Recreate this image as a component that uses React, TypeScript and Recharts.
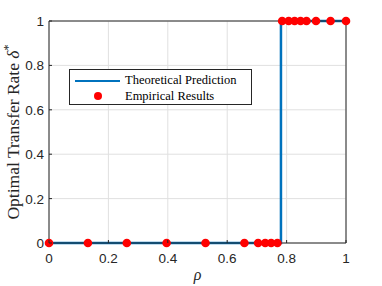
import React from 'react';
import { ComposedChart, Line, Scatter, XAxis, YAxis, CartesianGrid, Legend, Label } from 'recharts';

// curva teórica (degrau) e pontos empíricos
const rhoTeoria = [0, 0.781, 0.781, 1];
const deltaTeoria = [0, 0, 1, 1];
const rhoEmpirico = [0, 0.131, 0.262, 0.396, 0.527, 0.658, 0.704, 0.728, 0.748, 0.769, 0.785, 0.807, 0.827, 0.847, 0.867, 0.899, 0.948, 1];
const deltaEmpirico = [0, 0, 0, 0, 0, 0, 0, 0, 0, 0, 1, 1, 1, 1, 1, 1, 1, 1];
const ticks = [0, 0.2, 0.4, 0.6, 0.8, 1];
const tickLabels = ['0', '0.2', '0.4', '0.6', '0.8', '1'];

const dadosTeoria = rhoTeoria.map((x, i) => ({ x, y: deltaTeoria[i] }));
const dadosEmpirico = rhoEmpirico.map((x, i) => ({ x, y: deltaEmpirico[i] }));

const AZUL = '#0072BD';
const VERMELHO = '#FF0000';
const EIXO = '#262626';
const sans = '"Liberation Sans", Arial, Helvetica, sans-serif';
const serif = '"Liberation Serif", "Times New Roman", serif';

const label = (v: number) => tickLabels[ticks.indexOf(v)] ?? String(v);

const TickBaixo = (props: any) => {
  const { x, y, payload } = props;
  return (
    <g>
      <line x1={x} y1={y} x2={x} y2={y - 3} stroke={EIXO} />
      <text x={x} y={y + 20} textAnchor="middle" fontSize={13.5} fontFamily={sans} fill={EIXO}>
        {label(payload.value)}
      </text>
    </g>
  );
};

const TickEsquerda = (props: any) => {
  const { x, y, payload } = props;
  return (
    <g>
      <line x1={x} y1={y} x2={x + 3} y2={y} stroke={EIXO} />
      <text x={x - 5} y={y + 5} textAnchor="end" fontSize={13.5} fontFamily={sans} fill={EIXO}>
        {label(payload.value)}
      </text>
    </g>
  );
};

const TickCima = (props: any) => {
  const { x, y } = props;
  return <line x1={x} y1={y} x2={x} y2={y + 3} stroke={EIXO} />;
};

const TickDireita = (props: any) => {
  const { x, y } = props;
  return <line x1={x} y1={y} x2={x - 3} y2={y} stroke={EIXO} />;
};

const LegendaCaixa = () => (
  <div
    style={{
      border: '1px solid #262626',
      background: '#fff',
      width: 183,
      height: 36,
      boxSizing: 'border-box',
      fontFamily: serif,
      fontSize: 12.5,
      color: '#000',
      padding: '3px 0 0 5px',
      lineHeight: '15.5px',
    }}
  >
    <div style={{ display: 'flex', alignItems: 'center' }}>
      <span style={{ display: 'inline-block', width: 45, height: 2.5, background: AZUL, marginRight: 5 }} />
      Theoretical Prediction
    </div>
    <div style={{ display: 'flex', alignItems: 'center' }}>
      <span style={{ display: 'inline-block', width: 45, marginRight: 5, textAlign: 'center' }}>
        <span style={{ display: 'inline-block', width: 8, height: 8, borderRadius: 4, background: VERMELHO }} />
      </span>
      Empirical Results
    </div>
  </div>
);

export default function App() {
  return (
    <div style={{ position: 'absolute', left: 0, top: 0, background: '#fff' }}>
      <ComposedChart width={382} height={286} margin={{ top: 20, right: 35, bottom: 13, left: 9 }}>
        <CartesianGrid stroke="#e0e0e0" strokeWidth={1} verticalValues={ticks} horizontalValues={ticks} />
        <XAxis
          dataKey="x"
          type="number"
          domain={[0, 1]}
          ticks={ticks}
          height={30}
          tickSize={0}
          tickMargin={0}
          tick={<TickBaixo />}
          axisLine={{ stroke: EIXO }}
          tickLine={false}
        >
          <Label
            content={(p: any) => (
              <text
                x={p.viewBox.x + p.viewBox.width / 2}
                y={280}
                textAnchor="middle"
                fontSize={16}
                fontStyle="italic"
                fontFamily={serif}
                fill={EIXO}
              >
                ρ
              </text>
            )}
          />
        </XAxis>
        <XAxis
          xAxisId="top"
          orientation="top"
          type="number"
          domain={[0, 1]}
          ticks={ticks}
          height={1}
          tickSize={0}
          tickMargin={0}
          tick={<TickCima />}
          axisLine={{ stroke: EIXO }}
          tickLine={false}
        />
        <YAxis
          type="number"
          domain={[0, 1]}
          ticks={ticks}
          width={40}
          tickSize={0}
          tickMargin={0}
          tick={<TickEsquerda />}
          axisLine={{ stroke: EIXO }}
          tickLine={false}
        >
          <Label
            content={(p: any) => (
              <text
                x={19}
                y={p.viewBox.y + p.viewBox.height / 2}
                transform={`rotate(-90, 19, ${p.viewBox.y + p.viewBox.height / 2})`}
                textAnchor="middle"
                fontSize={17.5}
                fontFamily={serif}
                fill={EIXO}
              >
                Optimal Transfer Rate <tspan fontStyle="italic">δ</tspan>
                <tspan fontSize={12} dy={-7}>*</tspan>
              </text>
            )}
          />
        </YAxis>
        <YAxis
          yAxisId="right"
          orientation="right"
          type="number"
          domain={[0, 1]}
          ticks={ticks}
          width={1}
          tickSize={0}
          tickMargin={0}
          tick={<TickDireita />}
          axisLine={{ stroke: EIXO }}
          tickLine={false}
        />
        <Line
          data={dadosTeoria}
          dataKey="y"
          type="linear"
          stroke={AZUL}
          strokeWidth={2.5}
          dot={false}
          isAnimationActive={false}
        />
        <Scatter
          data={dadosEmpirico}
          dataKey="y"
          fill={VERMELHO}
          shape={(p: any) => <circle cx={p.cx} cy={p.cy} r={4.3} fill={VERMELHO} />}
          isAnimationActive={false}
        />
        <Legend
          layout="horizontal"
          verticalAlign="middle"
          align="center"
          content={<LegendaCaixa />}
          wrapperStyle={{ position: 'absolute', left: 69, top: 69, width: 183, height: 36 }}
        />
      </ComposedChart>
    </div>
  );
}
